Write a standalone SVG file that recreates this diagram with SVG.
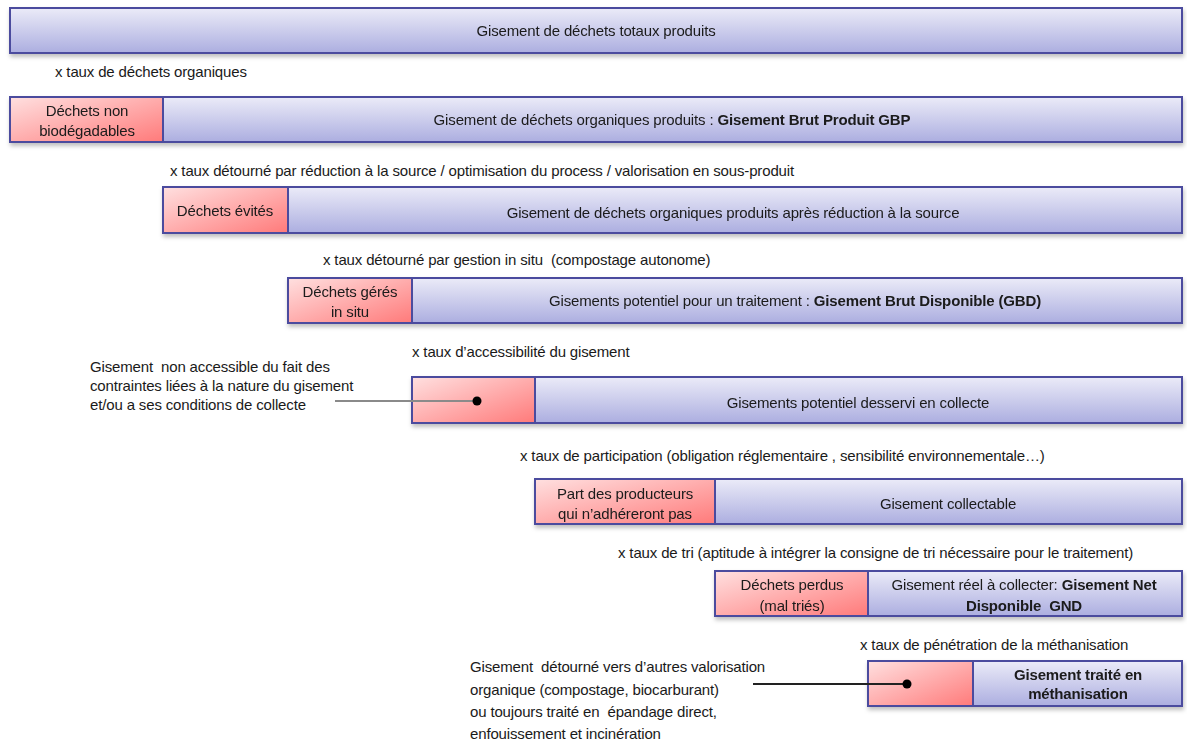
<svg xmlns="http://www.w3.org/2000/svg" width="1187" height="742" viewBox="0 0 1187 742">
<defs>
<linearGradient id="gb" x1="0" y1="0" x2="0" y2="1">
<stop offset="0" stop-color="#ebebf8"/><stop offset="1" stop-color="#acaee0"/>
</linearGradient>
<linearGradient id="gr" x1="0" y1="0" x2="1" y2="1">
<stop offset="0" stop-color="#ffe0e0"/><stop offset="1" stop-color="#ff7a7a"/>
</linearGradient>
<filter id="sh" x="-5%" y="-20%" width="110%" height="150%">
<feDropShadow dx="1" dy="3" stdDeviation="2" flood-color="#000" flood-opacity="0.25"/>
</filter>
<style>
.b{fill:url(#gb);stroke:#4b4b9e;stroke-width:2}
.r{fill:url(#gr);stroke:#4b4b9e;stroke-width:2}
text{font-family:"Liberation Sans",Arial,sans-serif;font-size:15px;fill:#1a1a1a;letter-spacing:-0.15px}
.c{text-anchor:middle}
.bd{font-weight:bold}
</style>
</defs>
<g id="n1" filter="url(#sh)">
<rect class="b" x="10" y="8" width="1172" height="45"/>
<text class="c" x="596" y="36">Gisement de déchets totaux produits</text>
</g>
<text x="55" y="77">x taux de déchets organiques</text>
<g id="n2" filter="url(#sh)">
<rect class="b" x="163" y="97" width="1019" height="45"/>
<rect class="r" x="10" y="97" width="153" height="45"/>
<text class="c" x="87" y="116">Déchets non</text>
<text class="c" x="87" y="136">biodégadables</text>
<text class="c" x="672" y="125">Gisement de déchets organiques produits : <tspan class="bd">Gisement Brut Produit GBP</tspan></text>
</g>
<text x="170" y="176">x taux détourné par réduction à la source / optimisation du process / valorisation en sous-produit</text>
<g id="n3" filter="url(#sh)">
<rect class="b" x="288" y="187" width="894" height="46"/>
<rect class="r" x="163" y="187" width="125" height="46"/>
<text class="c" x="225" y="216">Déchets évités</text>
<text class="c" x="733" y="218">Gisement de déchets organiques produits après réduction à la source</text>
</g>
<text x="323" y="265">x taux détourné par gestion in situ &#160;(compostage autonome)</text>
<g id="n4" filter="url(#sh)">
<rect class="b" x="412" y="278" width="770" height="45"/>
<rect class="r" x="288" y="278" width="124" height="45"/>
<text class="c" x="350" y="297">Déchets gérés</text>
<text class="c" x="350" y="317">in situ</text>
<text class="c" x="795" y="306">Gisements potentiel pour un traitement : <tspan class="bd">Gisement Brut Disponible (GBD)</tspan></text>
</g>
<text x="412" y="357">x taux d’accessibilité du gisement</text>
<g id="n5" filter="url(#sh)">
<rect class="b" x="535" y="377" width="647" height="46"/>
<rect class="r" x="412" y="377" width="123" height="46"/>
<text class="c" x="858" y="408">Gisements potentiel desservi en collecte</text>
</g>
<g id="t5">
<text x="90" y="372">Gisement &#160;non accessible du fait des</text>
<text x="90" y="391">contraintes liées à la nature du gisement</text>
<text x="90" y="410">et/ou a ses conditions de collecte</text>
</g>
<text x="520" y="461">x taux de participation (obligation réglementaire , sensibilité environnementale…)</text>
<g id="n6" filter="url(#sh)">
<rect class="b" x="715" y="479" width="467" height="45"/>
<rect class="r" x="535" y="479" width="180" height="45"/>
<text class="c" x="625" y="499">Part des producteurs</text>
<text class="c" x="625" y="519">qui n’adhéreront pas</text>
<text class="c" x="948" y="509">Gisement collectable</text>
</g>
<text x="618" y="558">x taux de tri (aptitude à intégrer la consigne de tri nécessaire pour le traitement)</text>
<g id="n7" filter="url(#sh)">
<rect class="b" x="868" y="571" width="314" height="45"/>
<rect class="r" x="715" y="571" width="153" height="45"/>
<text class="c" x="792" y="590">Déchets perdus</text>
<text class="c" x="792" y="611">(mal triés)</text>
<text class="c" x="1024" y="590">Gisement réel à collecter: <tspan class="bd">Gisement Net</tspan></text>
<text class="c bd" x="1024" y="611">Disponible &#160;GND</text>
</g>
<text x="860" y="650">x taux de pénétration de la méthanisation</text>
<g id="n8" filter="url(#sh)">
<rect class="b" x="973" y="661" width="209" height="45"/>
<rect class="r" x="868" y="661" width="105" height="45"/>
<text class="c bd" x="1078" y="680">Gisement traité en</text>
<text class="c bd" x="1078" y="699">méthanisation</text>
</g>
<g id="t8">
<text x="470" y="672">Gisement &#160;détourné vers d’autres valorisation</text>
<text x="470" y="695">organique (compostage, biocarburant)</text>
<text x="470" y="717">ou toujours traité en &#160;épandage direct,</text>
<text x="470" y="739">enfouissement et incinération</text>
</g>
<g id="connectors">
<line x1="335" y1="401" x2="477" y2="401" stroke="#8a8a8a" stroke-width="2"/>
<circle cx="477" cy="401" r="4.5" fill="#000"/>
<line x1="753" y1="684" x2="907" y2="684" stroke="#222" stroke-width="2"/>
<circle cx="907" cy="684" r="4.5" fill="#000"/>
</g>
</svg>
